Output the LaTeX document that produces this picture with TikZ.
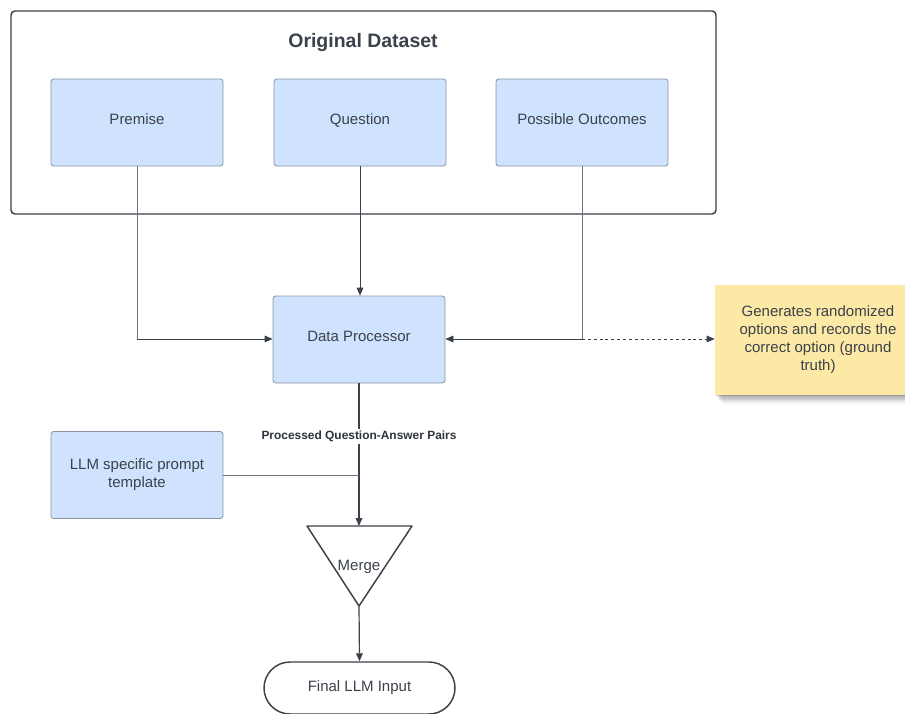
\documentclass[tikz,border=0pt]{standalone}
\usepackage{fontspec}
\setmainfont{Liberation Sans}
\usetikzlibrary{arrows.meta,shapes.misc}
\definecolor{txt}{HTML}{3A414A}
\definecolor{boxfill}{HTML}{CFE3FF}
\definecolor{boxline}{HTML}{8A93A2}
\definecolor{notefill}{HTML}{FDE9A6}
\definecolor{conn}{HTML}{6E7582}
\tikzset{
  base/.style={font=\fontsize{11.25pt}{13.5pt}\selectfont, text=txt},
  bluebox/.style={base, draw=boxline, fill=boxfill, line width=0.6pt, rounded corners=2pt,
    minimum width=129pt, minimum height=65.25pt, inner sep=0pt, align=center},
  oneline/.style={text height=8pt, text depth=4.5pt},
  arr/.style={-{Triangle[length=6pt,width=5pt]}, color=txt},
  thinconn/.style={draw=conn, line width=0.6pt},
  mainconn/.style={draw=txt, line width=0.9pt},
}
\begin{document}
\begin{tikzpicture}[x=0.75pt,y=-0.75pt]
\useasboundingbox (0,0) rectangle (905,713);
% outer dataset frame
\draw[txt, line width=1.1pt, rounded corners=3pt] (11,11) rectangle (716,214);
\node[base, font=\bfseries\fontsize{14.6pt}{17pt}\selectfont] (title) at (363,43) {Original Dataset};
% boxes
\node[bluebox, oneline] (premise) at (137,122.5) {Premise};
\node[bluebox, oneline] (question) at (360,122.5) {Question};
\node[bluebox, oneline] (outcomes) at (582,122.5) {Possible Outcomes};
\node[bluebox, oneline] (dp) at (359,339.5) {Data Processor};
\node[bluebox] (llm) at (137,475) {LLM specific prompt\\template};
% sticky note shadow
\foreach \i/\o in {1/0.10,2/0.08,3/0.07,4/0.06,5/0.05,6/0.04,7/0.03,8/0.02} {
  \fill[black, opacity=\o] (715+\i,290) rectangle (921,395+1.2*\i);
}
\node[base, fill=notefill, minimum width=154.5pt, minimum height=82.5pt, inner sep=0pt, align=center] (note) at (818,340)
  {Generates randomized\\options and records the\\correct option (ground\\truth)};
% merge triangle
\coordinate (mtop) at (359,526);
\coordinate (mbot) at (359,606);
\draw[txt, line width=1.1pt, line join=round] (307,526) -- (412,526) -- (mbot) -- cycle;
\node[base] (merge) at (359,567) {Merge};
% final input
\node[base, draw=txt, line width=1.1pt, rounded rectangle, minimum width=143.25pt, minimum height=39pt, inner sep=0pt] (final) at (359.5,688) {Final LLM Input};
% connectors
\coordinate (pjoin) at (137,339);
\coordinate (ojoin) at (582,339);
\draw[thinconn] (premise.south) -- (pjoin);
\draw[thinconn, arr] (pjoin) -- (dp.west |- pjoin);
\draw[thinconn, arr] (question.south) -- (question.south |- dp.north);
\draw[thinconn] (outcomes.south) -- (ojoin);
\draw[thinconn, arr] (ojoin) -- (dp.east |- ojoin);
\draw[txt, line width=0.6pt, dash pattern=on 2.2pt off 2.2pt, arr] (ojoin) -- (note.west |- ojoin);
\draw[mainconn, arr] (dp.south) -- (mtop)
  node[pos=0.37, fill=white, inner sep=1.5pt, text=txt!80!black, font=\bfseries\fontsize{8.95pt}{10pt}\selectfont] (lbl) {Processed Question-Answer Pairs};
\draw[thinconn] (llm.east) -- (llm.east -| mtop);
\draw[mainconn, arr] (mbot) -- (final.north);
\end{tikzpicture}
\end{document}
